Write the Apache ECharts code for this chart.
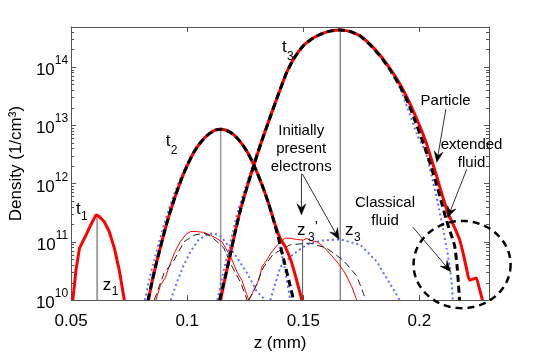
<!DOCTYPE html>
<html><head><meta charset="utf-8">
<script src="https://cdn.jsdelivr.net/npm/echarts@6/dist/echarts.min.js"></script>
<style>html,body{margin:0;padding:0;background:#fff}#c{width:540px;height:357px}</style>
</head><body><div id="c"></div>
<script>
// ---------------- data: z (mm), density (1/cm^3) ----------------
const xTickLabels = ['0.05', '0.1', '0.15', '0.2'];
const yDecades = [10, 11, 12, 13, 14];
const minorMultipliers = [2, 3, 4, 5, 6, 7, 8, 9];

const t1Particle = [[0.0507,1e10],[0.0521,3.3e10],[0.0536,7.8e10],[0.0564,1.3e11],[0.0586,2.0e11],[0.0607,2.9e11],[0.0621,2.7e11],[0.0643,2.2e11],[0.0664,1.5e11],[0.0686,7.8e10],[0.0707,3.3e10],[0.0729,1e10]];

const t2Particle = [[0.0833,1e10],[0.0850,2.2e10],[0.0870,4.8e10],[0.0890,9.8e10],[0.0910,1.95e11],[0.0930,3.6e11],[0.0950,6.3e11],[0.0975,1.18e12],[0.1000,2.04e12],[0.1030,3.5e12],[0.1060,5.2e12],[0.1090,6.9e12],[0.1120,8.2e12],[0.1144,8.5e12],[0.1170,8.1e12],[0.1200,6.9e12],[0.1230,5.1e12],[0.1260,3.4e12],[0.1290,1.95e12],[0.1320,1.0e12],[0.1350,4.6e11],[0.1380,1.9e11],[0.1400,1.15e11],[0.1420,8.5e10],[0.1445,5e10],[0.1470,2.3e10],[0.1494,1e10]];
const t2Fluid = [[0.0831,1e10],[0.0850,2.2e10],[0.0870,4.8e10],[0.0890,9.8e10],[0.0910,1.95e11],[0.0930,3.6e11],[0.0950,6.3e11],[0.0975,1.18e12],[0.1000,2.04e12],[0.1030,3.5e12],[0.1060,5.2e12],[0.1090,6.9e12],[0.1120,8.2e12],[0.1144,8.5e12],[0.1170,8.1e12],[0.1200,6.9e12],[0.1230,5.1e12],[0.1260,3.4e12],[0.1290,1.95e12],[0.1320,1.0e12],[0.1350,4.6e11],[0.1380,1.8e11],[0.1400,9e10],[0.1420,4.2e10],[0.1440,2e10],[0.1458,1e10]];
const t2Classical = [[0.0818,1e10],[0.0836,2.2e10],[0.0857,4.8e10],[0.0879,9.8e10],[0.0900,1.95e11],[0.0921,3.6e11],[0.0942,6.3e11],[0.0969,1.18e12],[0.0996,2.04e12],[0.1027,3.5e12],[0.1058,5.2e12],[0.1089,6.9e12],[0.1120,8.2e12],[0.1144,8.5e12],[0.1170,8.1e12],[0.1200,6.9e12],[0.1230,5.1e12],[0.1260,3.4e12],[0.1290,1.95e12],[0.1320,1.0e12],[0.1350,4.6e11],[0.1380,1.8e11],[0.1400,8e10],[0.1420,3.5e10],[0.1444,1e10]];

const t3Particle = [[0.1144,1e10],[0.1165,2.6e10],[0.1186,6.2e10],[0.1207,1.5e11],[0.1229,3.5e11],[0.1257,8.5e11],[0.1286,2.0e12],[0.1320,5.2e12],[0.1358,1.4e13],[0.1394,3.5e13],[0.1430,8.3e13],[0.1465,1.5e14],[0.1500,2.3e14],[0.1536,3.0e14],[0.1573,3.6e14],[0.1615,4.1e14],[0.1659,4.3e14],[0.1700,4.05e14],[0.1744,3.4e14],[0.1787,2.45e14],[0.1830,1.6e14],[0.1873,9.4e13],[0.1916,5.1e13],[0.1952,2.7e13],[0.1988,1.3e13],[0.2010,8e12],[0.2031,4.8e12],[0.2052,2.6e12],[0.2073,1.4e12],[0.2098,6.4e11],[0.2123,3.1e11],[0.2148,1.9e11],[0.2173,1.1e11],[0.2190,6e10],[0.2205,3.2e10],[0.2216,2.2e10],[0.2232,2.3e10],[0.2245,2.4e10],[0.2258,1.6e10],[0.2272,1e10]];
const t3Fluid = [[0.1139,1e10],[0.1165,2.6e10],[0.1186,6.2e10],[0.1207,1.5e11],[0.1229,3.5e11],[0.1257,8.5e11],[0.1286,2.0e12],[0.1320,5.2e12],[0.1358,1.4e13],[0.1394,3.5e13],[0.1430,8.3e13],[0.1465,1.5e14],[0.1500,2.3e14],[0.1536,3.0e14],[0.1573,3.6e14],[0.1615,4.1e14],[0.1659,4.3e14],[0.1700,4.05e14],[0.1744,3.4e14],[0.1787,2.4e14],[0.1830,1.55e14],[0.1873,9e13],[0.1916,4.7e13],[0.1952,2.4e13],[0.1975,1.4e13],[0.2018,4.8e12],[0.2045,2.3e12],[0.2078,8.5e11],[0.2095,4.8e11],[0.2116,2.4e11],[0.2135,1.4e11],[0.2152,8.5e10],[0.2162,4e10],[0.2168,2e10],[0.2173,1e10]];
const t3Classical = [[0.1130,1e10],[0.1152,2.6e10],[0.1174,6.2e10],[0.1197,1.5e11],[0.1220,3.5e11],[0.1250,8.5e11],[0.1281,2.0e12],[0.1316,5.2e12],[0.1355,1.4e13],[0.1392,3.5e13],[0.1429,8.3e13],[0.1465,1.5e14],[0.1500,2.3e14],[0.1536,3.0e14],[0.1573,3.6e14],[0.1615,4.1e14],[0.1659,4.3e14],[0.1700,4.0e14],[0.1744,3.35e14],[0.1787,2.35e14],[0.1830,1.5e14],[0.1873,8.8e13],[0.1916,4.4e13],[0.1950,1.9e13],[0.1990,7e12],[0.2030,3.2e12],[0.2059,1.07e12],[0.2080,4.6e11],[0.2102,1.66e11],[0.2118,7.5e10],[0.2131,3.7e10],[0.2139,2e10],[0.2144,1e10]];

// initially present electrons (thin curves)
const t2InitParticle = [[0.0865,1e10],[0.0885,1.8e10],[0.0905,2.4e10],[0.0925,4e10],[0.0945,6.5e10],[0.0970,1.0e11],[0.0995,1.35e11],[0.1015,1.5e11],[0.1040,1.5e11],[0.1070,1.45e11],[0.1100,1.3e11],[0.1125,1.15e11],[0.1150,1.0e11],[0.1172,7e10],[0.1190,5.2e10],[0.1215,3e10],[0.1235,2.2e10],[0.1255,1.3e10],[0.1265,1e10]];
const t3InitParticle = [[0.1265,1e10],[0.1280,1.3e10],[0.1308,2.2e10],[0.1322,3.7e10],[0.1345,5e10],[0.1358,6.2e10],[0.1380,8e10],[0.1401,1.0e11],[0.1420,1.15e11],[0.1444,1.15e11],[0.1470,1.1e11],[0.1500,1.07e11],[0.1515,1.15e11],[0.1530,1.05e11],[0.1559,1.0e11],[0.1590,8e10],[0.1616,6.2e10],[0.1652,4.2e10],[0.1680,2.9e10],[0.1709,1.7e10],[0.1730,1e10]];
const t2InitFluid = [[0.0858,1e10],[0.0900,2.9e10],[0.0943,4.8e10],[0.0986,1.0e11],[0.1029,1.3e11],[0.1072,1.4e11],[0.1100,1.25e11],[0.1129,1.0e11],[0.1158,7.8e10],[0.1187,4.2e10],[0.1230,2e10],[0.1258,1e10]];
const t3InitFluid = [[0.1265,1e10],[0.1286,1.4e10],[0.1329,3.7e10],[0.1372,6.2e10],[0.1444,8.9e10],[0.1530,9.5e10],[0.1600,7.8e10],[0.1673,4.8e10],[0.1730,2.6e10],[0.1759,1.3e10],[0.1770,1e10]];
const t2InitClassical = [[0.0929,1e10],[0.0955,2e10],[0.0985,4e10],[0.1015,6.9e10],[0.1050,1.1e11],[0.1090,1.35e11],[0.1115,1.4e11],[0.1144,1.25e11],[0.1200,6.5e10],[0.1258,2.9e10],[0.1300,1.4e10],[0.1337,1e10]];
const t3InitClassical = [[0.1358,1e10],[0.1375,1.7e10],[0.1401,3.7e10],[0.1458,6.2e10],[0.1515,8.9e10],[0.1580,1.05e11],[0.1659,1.1e11],[0.1745,8.9e10],[0.1816,4.6e10],[0.1887,1.55e10],[0.1916,1e10]];

// peak markers (vertical lines)
const z1Line = [[0.0612,1e10],[0.0612,2.9e11]];
const t2Line = [[0.1144,1e10],[0.1144,8.5e12]];
const z3Line = [[0.1659,1e10],[0.1659,4.3e14]];
const z3pLine = [[0.1497,1e10],[0.1497,1.07e11]];

// ---------------- annotations (anchored in data coordinates) ----------------
const notes = [
  {kind:'label', at:[0.0521,3.64e11], parts:[['t',0,0,17],['1',5,8,12]]},
  {kind:'label', at:[0.0636,1.82e10], parts:[['z',0,0,17],['1',9,7,12]]},
  {kind:'label', at:[0.0908,5.3e12], parts:[['t',0,0,17],['2',5,9,12]]},
  {kind:'label', at:[0.1408,2.17e14], parts:[['t',0,0,17],['3',5,9,12]]},
  {kind:'label', at:[0.1473,1.55e11], parts:[['z',0,0,17],['3',11,7,12],["'",18,-4,14]]},
  {kind:'label', at:[0.1680,1.55e11], parts:[['z',0,0,17],['3',9,7,12]]},
  {kind:'text', at:[0.1491,3.85e12], text:'Initially\npresent\nelectrons'},
  {kind:'text', at:[0.2113,2.6e13], text:'Particle'},
  {kind:'text', at:[0.2225,3.25e12], text:'extended\nfluid'},
  {kind:'text', at:[0.1852,3.3e11], text:'Classical\nfluid'},
  {kind:'arrow', at:[0.1492,1.46e12], to:[0.1492,2.9e11]},
  {kind:'arrow', at:[0.1496,1.46e12], to:[0.1654,1.1e11]},
  {kind:'arrow', at:[0.2114,1.86e13], to:[0.2075,2.3e12]},
  {kind:'arrow', at:[0.2204,1.74e12], to:[0.2122,2.6e11]},
  {kind:'arrow', at:[0.1972,1.78e11], to:[0.2135,3.07e10]},
  {kind:'ellipse', at:[0.2184,4.07e10], rx:[0.2393,4.07e10], ry:[0.2184,2.28e11]}
];

const FONT = '"Liberation Sans", Arial, Helvetica, sans-serif';
const zMin = 0.05, zMax = 0.23, yMin = 1e10, yMax = 4.82e14;

const minorTicks = [];
yDecades.forEach(d => minorMultipliers.forEach(m => { const v = m * Math.pow(10, d); if (v < yMax) minorTicks.push([zMin, v]); }));

const chart = echarts.init(document.getElementById('c'), null, {renderer:'canvas'});

function lineSeries(data, color, width, type, z, smooth) {
  return {type:'line', data:data, showSymbol:false, symbol:'none', smooth: smooth || false,
    lineStyle:{color:color, width:width, type:type}, z:z, silent:true, animation:false, clip:true};
}
const BLUE = '#5f6fff';
const dash = [7, 4];
const dot = [2, 3];

function renderMinor(params, api) {
  const v = api.value(1);
  const l = api.coord([zMin, v]);
  const r = api.coord([zMax, v]);
  const y = Math.round(l[1]) + 0.5;
  return {type:'group', children:[
    {type:'line', shape:{x1:l[0], y1:y, x2:l[0]+3, y2:y}, style:{stroke:'#555', lineWidth:1}},
    {type:'line', shape:{x1:r[0], y1:y, x2:r[0]-3, y2:y}, style:{stroke:'#555', lineWidth:1}}
  ]};
}

function renderNote(params, api) {
  const n = notes[params.dataIndex];
  const p = api.coord(n.at);
  if (n.kind === 'label') {
    return {type:'group', children: n.parts.map(([s, dx, dy, fs]) => ({
      type:'text', x:p[0]+dx, y:p[1]+dy,
      style:{text:s, fontSize:fs, fontFamily:FONT, fill:'#000', align:'left', verticalAlign:'middle'}}))};
  }
  if (n.kind === 'text') {
    return {type:'text', x:p[0], y:p[1],
      style:{text:n.text, fontSize:15, lineHeight:18, fontFamily:FONT, fill:'#000', align:'center', verticalAlign:'middle'}};
  }
  if (n.kind === 'arrow') {
    const q = api.coord(n.to);
    const dx = q[0]-p[0], dy = q[1]-p[1];
    const len = Math.sqrt(dx*dx+dy*dy);
    const ux = dx/len, uy = dy/len, nx = -uy, ny = ux;
    const L = 11, W = 4.5, B = 7;
    const pts = [
      [q[0], q[1]],
      [q[0]-L*ux+W*nx, q[1]-L*uy+W*ny],
      [q[0]-B*ux, q[1]-B*uy],
      [q[0]-L*ux-W*nx, q[1]-L*uy-W*ny]
    ];
    return {type:'group', children:[
      {type:'line', shape:{x1:p[0], y1:p[1], x2:q[0]-B*ux, y2:q[1]-B*uy}, style:{stroke:'#333', lineWidth:1}},
      {type:'polygon', shape:{points:pts}, style:{fill:'#000', stroke:'#000', lineWidth:0.5}}
    ]};
  }
  if (n.kind === 'ellipse') {
    const a = api.coord(n.rx), b = api.coord(n.ry);
    const rx = a[0]-p[0], ry = p[1]-b[1];
    const pts = [];
    for (let i = 0; i < 96; i++) { const t = i/96*Math.PI*2; pts.push([p[0]+rx*Math.cos(t), p[1]+ry*Math.sin(t)]); }
    return {type:'polygon', shape:{points:pts}, style:{fill:null, stroke:'#000', lineWidth:2.5, lineDash:[7,5]}};
  }
  return null;
}

const axisLineStyle = {color:'#555', width:1};
function yFormatter(v) {
  const e = Math.log10(v);
  const r = Math.round(e);
  if (Math.abs(e - r) > 1e-6) return '';
  return '{b|10}{e|' + r + '}';
}

chart.setOption({
  animation:false,
  backgroundColor:'#fff',
  textStyle:{fontFamily:FONT},
  grid:{left:70, right:51, top:27, bottom:42, containLabel:false},
  xAxis:[
    {type:'value', min:zMin, max:zMax, interval:0.05, position:'bottom',
     axisLine:{lineStyle:axisLineStyle}, axisTick:{inside:true, length:5, lineStyle:axisLineStyle},
     splitLine:{show:false},
     axisLabel:{fontSize:17, color:'#000', fontFamily:FONT, margin:13, showMaxLabel:false,
       formatter: v => { const i = Math.round((v - zMin)/0.05); return (Math.abs(v - (zMin + i*0.05)) < 1e-9 && xTickLabels[i]) ? xTickLabels[i] : ''; }},
     name:'z (mm)', nameLocation:'middle', nameGap:28, nameTextStyle:{fontSize:17, color:'#000', fontFamily:FONT}},
    {type:'value', min:zMin, max:zMax, interval:0.05, position:'top',
     axisLine:{lineStyle:axisLineStyle}, axisTick:{inside:true, length:5, lineStyle:axisLineStyle},
     splitLine:{show:false}, axisLabel:{show:false}}
  ],
  yAxis:[
    {type:'log', logBase:10, min:yMin, max:yMax, position:'left',
     axisLine:{lineStyle:axisLineStyle}, axisTick:{inside:true, length:5, lineStyle:axisLineStyle},
     splitLine:{show:false},
     axisLabel:{margin:3, color:'#000', formatter:yFormatter, showMaxLabel:false,
       rich:{b:{fontSize:17, lineHeight:24, verticalAlign:'bottom', fontFamily:FONT, color:'#000'},
             e:{fontSize:12, lineHeight:12, verticalAlign:'top', fontFamily:FONT, color:'#000'}}},
     name:'Density (1/cm³)', nameLocation:'middle', nameGap:35, nameTextStyle:{fontSize:17, color:'#000', fontFamily:FONT}},
    {type:'log', logBase:10, min:yMin, max:yMax, position:'right',
     axisLine:{lineStyle:axisLineStyle}, axisTick:{inside:true, length:5, lineStyle:axisLineStyle},
     splitLine:{show:false}, axisLabel:{show:false}}
  ],
  series:[
    {type:'custom', renderItem:renderMinor, data:minorTicks, silent:true, z:1, encode:{x:0, y:1}},
    lineSeries(z1Line, '#a0a0a0', 2, 'solid', 2),
    lineSeries(t2Line, '#9a9a9a', 1.5, 'solid', 2),
    lineSeries(z3Line, '#555', 1, 'solid', 2),
    lineSeries(z3pLine, '#555', 1, 'solid', 2),
    lineSeries(t2InitClassical, BLUE, 2, dot, 3),
    lineSeries(t3InitClassical, BLUE, 2, dot, 3),
    lineSeries(t2InitParticle, '#ff0000', 1, 'solid', 3),
    lineSeries(t3InitParticle, '#ff0000', 1, 'solid', 3),
    lineSeries(t2InitFluid, '#222', 1, dash, 3),
    lineSeries(t3InitFluid, '#222', 1, dash, 3),
    lineSeries(t2Classical, BLUE, 2, dot, 4, 0.2),
    lineSeries(t3Classical, BLUE, 2, dot, 4, 0.2),
    lineSeries(t1Particle, '#ff0000', 3, 'solid', 5),
    lineSeries(t2Particle, '#ff0000', 3, 'solid', 5, 0.2),
    lineSeries(t3Particle, '#ff0000', 3, 'solid', 5, 0.2),
    lineSeries(t2Fluid, '#000', 3, dash, 6, 0.2),
    lineSeries(t3Fluid, '#000', 3, dash, 6, 0.2),
    {type:'custom', renderItem:renderNote, data:notes.map(n => n.at), silent:true, z:10, clip:false, encode:{x:0, y:1}}
  ]
});
</script></body></html>
